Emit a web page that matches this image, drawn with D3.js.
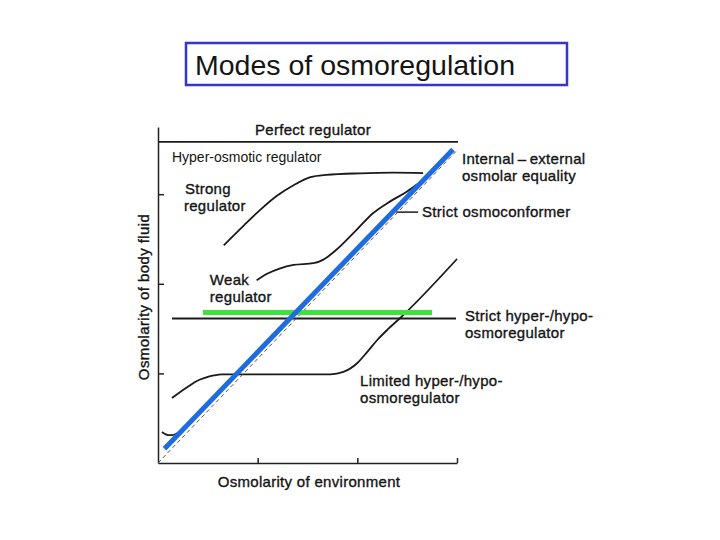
<!DOCTYPE html>
<html>
<head>
<meta charset="utf-8">
<script src="https://cdn.jsdelivr.net/npm/d3@7"></script>
<style>
  body { margin: 0; background: #fff; }
  text { font-family: Arial, "Liberation Sans", sans-serif; fill: #151515; }
</style>
</head>
<body>
<div id="chart"></div>
<script>
// Modes of osmoregulation - schematic curves (arbitrary osmolarity units)

const xTicks = [1, 2, 3];
const yTicks = [1, 2, 3];

// [osmolarity of environment, osmolarity of body fluid]
const strongRegulator = [[0.66, 2.43], [0.86, 2.65], [1.02, 2.82], [1.19, 2.98], [1.36, 3.1],
  [1.53, 3.19], [1.69, 3.215], [2.03, 3.233], [2.36, 3.24], [2.66, 3.235]];
const weakRegulator = [[0.99, 2.04], [1.09, 2.11], [1.22, 2.17], [1.36, 2.21], [1.56, 2.23],
  [1.66, 2.27], [1.79, 2.38], [1.99, 2.6], [2.16, 2.79], [2.33, 2.92], [2.5, 3.03], [2.6, 3.11]];
const limitedRegulator = [[0.14, 0.725], [0.22, 0.79], [0.3, 0.85], [0.39, 0.915], [0.47, 0.95],
  [0.56, 0.977], [0.64, 0.99], [1.73, 0.99], [1.86, 1.016], [2.0, 1.116], [2.1, 1.24],
  [2.2, 1.373], [2.31, 1.496], [2.43, 1.618], [3.0, 2.277]];
const hyperOsmotic = [[0.04, 0.346], [0.07, 0.324], [0.1, 0.312], [0.14, 0.312], [0.18, 0.324], [0.24, 0.368]];
const equality = [[0, 0], [3.0, 3.49]];
const osmoconformer = [[0.065, 0.16], [2.96, 3.5]];
const strictRegulator = [[0.14, 1.613], [2.99, 1.613]];
const strictHighlight = [[0.45, 1.68], [2.75, 1.68]];
const perfectRegulator = [[0, 3.583], [3.01, 3.583]];
const conformerLeader = [[2.39, 2.8], [2.61, 2.8]];

const labels = [
  { t: "Perfect regulator", x: 1.555, y: 3.661, anchor: "middle" },
  { t: "Hyper-osmotic regulator", x: 0.14, y: 3.359, size: 14, spacing: 0, weight: 0 },
  { t: "Strong", x: 0.27, y: 3.0 },
  { t: "regulator", x: 0.26, y: 2.81 },
  { t: "Weak", x: 0.52, y: 1.985 },
  { t: "regulator", x: 0.52, y: 1.795 },
  { t: "Internal\u2009\u2013\u2009external", x: 3.05, y: 3.335 },
  { t: "osmolar equality", x: 3.05, y: 3.15 },
  { t: "Strict osmoconformer", x: 2.649, y: 2.746 },
  { t: "Strict hyper-/hypo-", x: 3.08, y: 1.585 },
  { t: "osmoregulator", x: 3.08, y: 1.4 },
  { t: "Limited hyper-/hypo-", x: 2.027, y: 0.858 },
  { t: "osmoregulator", x: 2.027, y: 0.675 }
];

const svg = d3.select("#chart").append("svg")
  .attr("width", 720)
  .attr("height", 540);

// title box
svg.append("rect")
  .attr("x", 186).attr("y", 43)
  .attr("width", 381).attr("height", 42)
  .attr("fill", "none")
  .attr("stroke", "#3636cc")
  .attr("stroke-width", 2.5);

svg.append("text")
  .attr("x", 195).attr("y", 75)
  .style("font-size", "28.5px")
  .text("Modes of osmoregulation");

const x = d3.scaleLinear().domain([0, 3]).range([158, 457]);
const y = d3.scaleLinear().domain([0, 3.75]).range([463, 127]);

// axes with inward ticks
svg.append("g")
  .attr("transform", `translate(${x(0)},0)`)
  .call(d3.axisLeft(y).tickValues(yTicks).tickSize(-6).tickSizeOuter(0).tickFormat(""))
  .call(g => g.selectAll("path, line").attr("stroke", "#222").attr("stroke-width", 1.5));

svg.append("g")
  .attr("transform", `translate(0,${y(0)})`)
  .call(d3.axisBottom(x).tickValues(xTicks).tickSize(-5).tickSizeOuter(0).tickFormat(""))
  .call(g => g.selectAll("path, line").attr("stroke", "#222").attr("stroke-width", 1.5));

const line = d3.line().x(d => x(d[0])).y(d => y(d[1]));
const curve = d3.line().x(d => x(d[0])).y(d => y(d[1])).curve(d3.curveMonotoneX);

function draw(data, gen, color, width, dash) {
  svg.append("path")
    .datum(data)
    .attr("d", gen)
    .attr("fill", "none")
    .attr("stroke", color)
    .attr("stroke-width", width)
    .attr("stroke-dasharray", dash || null);
}

draw(perfectRegulator, line, "#1a1a1a", 1.8);
draw(strongRegulator, curve, "#1a1a1a", 1.8);
draw(weakRegulator, curve, "#1a1a1a", 1.8);
draw(limitedRegulator, curve, "#1a1a1a", 1.8);
draw(hyperOsmotic, curve, "#1a1a1a", 1.8);
draw(strictRegulator, line, "#1a1a1a", 1.8);
draw(conformerLeader, line, "#1a1a1a", 1.5);
draw(equality, line, "#555", 1, "4,3");
draw(strictHighlight, line, "#3de23d", 5);
draw(osmoconformer, line, "#1f6be0", 5);

svg.selectAll("text.label")
  .data(labels)
  .join("text")
  .attr("class", "label")
  .attr("x", d => x(d.x))
  .attr("y", d => y(d.y))
  .attr("text-anchor", d => d.anchor || "start")
  .style("font-size", d => (d.size || 15) + "px")
  .style("letter-spacing", d => (d.spacing === undefined ? 0.3 : d.spacing) + "px")
  .style("stroke", "#151515")
  .style("stroke-width", d => (d.weight === undefined ? 0.35 : d.weight))
  .text(d => d.t);

// axis titles
svg.append("text")
  .attr("x", 309).attr("y", 487)
  .attr("text-anchor", "middle")
  .style("font-size", "15px")
  .style("letter-spacing", "0.3px")
  .style("stroke", "#151515").style("stroke-width", 0.35)
  .text("Osmolarity of environment");

svg.append("text")
  .attr("transform", "translate(149,297) rotate(-90)")
  .attr("text-anchor", "middle")
  .style("font-size", "15px")
  .style("letter-spacing", "0.4px")
  .style("stroke", "#151515").style("stroke-width", 0.35)
  .text("Osmolarity of body fluid");
</script>
</body>
</html>
